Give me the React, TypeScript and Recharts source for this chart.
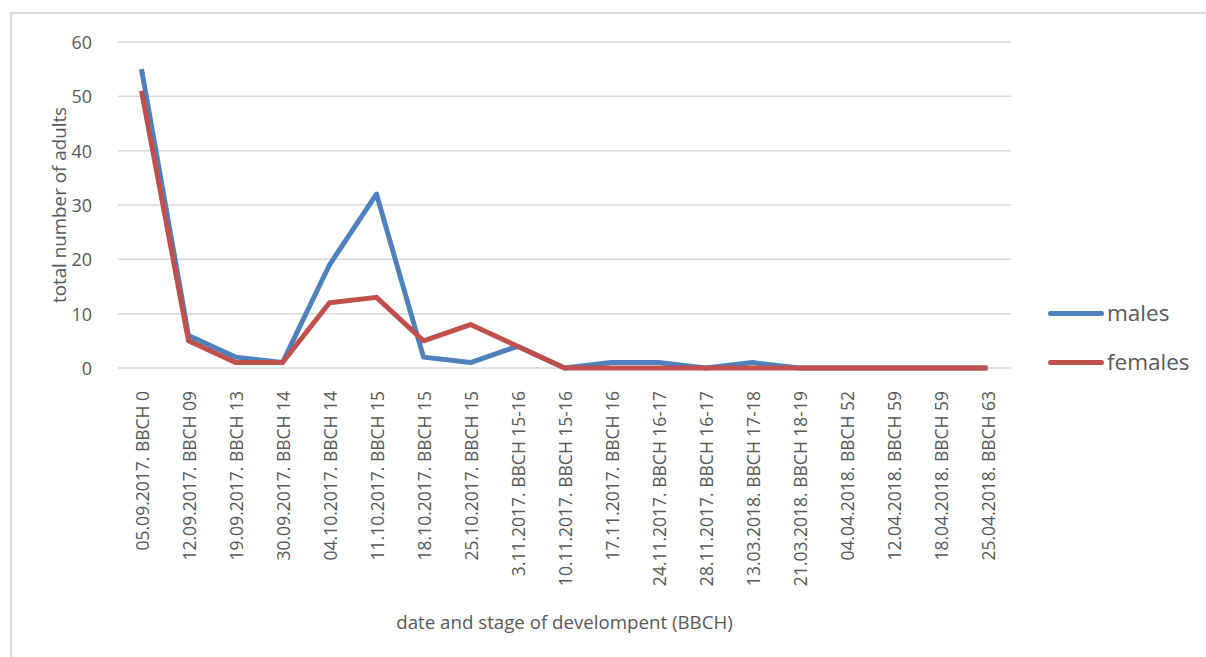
import { LineChart, Line, XAxis, YAxis, CartesianGrid } from "recharts";

const dates = [
  "05.09.2017. BBCH 0",
  "12.09.2017. BBCH 09",
  "19.09.2017. BBCH 13",
  "30.09.2017. BBCH 14",
  "04.10.2017. BBCH 14",
  "11.10.2017. BBCH 15",
  "18.10.2017. BBCH 15",
  "25.10.2017. BBCH 15",
  "3.11.2017. BBCH 15-16",
  "10.11.2017. BBCH 15-16",
  "17.11.2017. BBCH 16",
  "24.11.2017. BBCH 16-17",
  "28.11.2017. BBCH 16-17",
  "13.03.2018. BBCH 17-18",
  "21.03.2018. BBCH 18-19",
  "04.04.2018. BBCH 52",
  "12.04.2018. BBCH 59",
  "18.04.2018. BBCH 59",
  "25.04.2018. BBCH 63",
];
const males = [55, 6, 2, 1, 19, 32, 2, 1, 4, 0, 1, 1, 0, 1, 0, 0, 0, 0, 0];
const females = [51, 5, 1, 1, 12, 13, 5, 8, 4, 0, 0, 0, 0, 0, 0, 0, 0, 0, 0];
const yTicks = [0, 10, 20, 30, 40, 50, 60];

const series = [
  { key: "males", color: "#4f81bd" },
  { key: "females", color: "#c0504d" },
];

const data = dates.map((d, i) => ({ date: d, males: males[i], females: females[i] }));

const FONT = "'Open Sans', 'Noto Sans', sans-serif";
const TEXT = "#595959";

const XTick = ({ x, y, payload }: any) => (
  <text
    x={x}
    y={y + 15}
    transform={`rotate(-90 ${x} ${y + 15})`}
    textAnchor="end"
    dominantBaseline="central"
    fill={TEXT}
    fontSize={17.5}
    fontFamily={FONT}
  >
    {payload.value}
  </text>
);

const YTick = ({ x, y, payload }: any) => (
  <text x={x - 18} y={y} textAnchor="end" dominantBaseline="central" fill={TEXT} fontSize={18} fontFamily={FONT}>
    {payload.value}
  </text>
);

export default function App() {
  return (
    <div style={{ position: "absolute", left: 0, top: 0, width: 1206, height: 657, overflow: "hidden", background: "#fff" }}>
      <div
        style={{
          position: "absolute",
          left: 10,
          top: 12,
          width: 1300,
          height: 800,
          border: "2px solid #d9d9d9",
          boxSizing: "border-box",
        }}
      />
      <div style={{ position: "absolute", left: 0, top: 0 }}>
        <LineChart width={1206} height={657} data={data} margin={{ top: 42, right: 195, bottom: 0, left: 78 }}>
          <CartesianGrid vertical={false} stroke="#d9d9d9" strokeWidth={1.5} />
          <XAxis
            dataKey="date"
            scale="band"
            interval={0}
            height={289}
            axisLine={false}
            tickLine={false}
            tick={<XTick />}
            label={({ viewBox }: any) => (
              <text
                x={viewBox.x + viewBox.width / 2}
                y={621}
                textAnchor="middle"
                dominantBaseline="central"
                fill={TEXT}
                fontSize={18.7}
                fontFamily={FONT}
              >
                date and stage of develompent (BBCH)
              </text>
            )}
          />
          <YAxis
            width={40}
            domain={[0, 60]}
            ticks={yTicks}
            axisLine={false}
            tickLine={false}
            tick={<YTick />}
            label={({ viewBox }: any) => {
              const cy = viewBox.y + viewBox.height / 2;
              return (
                <text
                  x={59}
                  y={cy}
                  transform={`rotate(-90 59 ${cy})`}
                  textAnchor="middle"
                  dominantBaseline="central"
                  fill={TEXT}
                  fontSize={18.8}
                  fontFamily={FONT}
                >
                  total number of adults
                </text>
              );
            }}
          />
          {series.map((s) => (
            <Line
              key={s.key}
              dataKey={s.key}
              name={s.key}
              stroke={s.color}
              strokeWidth={5}
              dot={false}
              strokeLinejoin="round"
              isAnimationActive={false}
            />
          ))}
        </LineChart>
      </div>
      <div style={{ position: "absolute", left: 1048, top: 289, fontFamily: FONT, color: TEXT, fontSize: 22.5 }}>
        {series.map((s) => (
          <div key={s.key} style={{ display: "flex", alignItems: "center", height: 49 }}>
            <span style={{ display: "inline-block", width: 56, height: 5, borderRadius: 3, background: s.color, marginRight: 3 }} />
            <span style={{ lineHeight: 1 }}>{s.key}</span>
          </div>
        ))}
      </div>
    </div>
  );
}
